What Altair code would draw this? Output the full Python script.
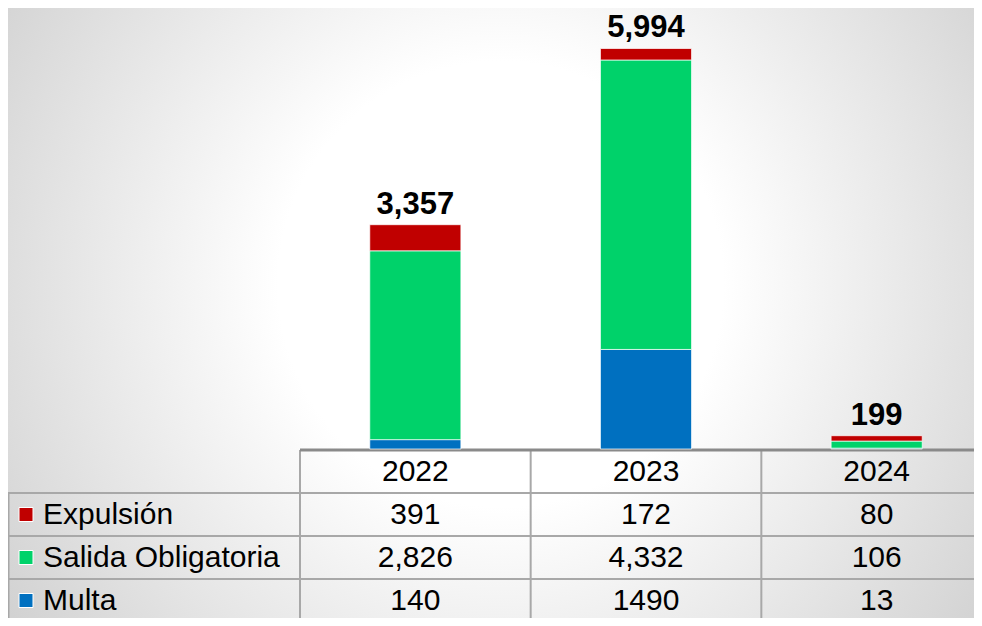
import altair as alt
import pandas as pd

# ---------------- data ----------------
years = ["2022", "2023", "2024"]
series = ["Expulsión", "Salida Obligatoria", "Multa"]
colors = ["#C00000", "#00D26A", "#0070C0"]
expulsion = [391, 172, 80]
salida = [2826, 4332, 106]
multa = [140, 1490, 13]
totals = [3357, 5994, 199]
expulsion_labels = ["391", "172", "80"]
salida_labels = ["2,826", "4,332", "106"]
multa_labels = ["140", "1490", "13"]
header_key = "Año"

# ---------------- layout ----------------
W, H = 966, 610
FONT = "Liberation Sans"
COL_RANGE = [292, 984]
TABLE_RANGE = [442, 614]

# long tables built from the lists
bar_rows = []
for i, yr in enumerate(years):
    for name, vals, order in [(series[2], multa, 0), (series[1], salida, 1), (series[0], expulsion, 2)]:
        bar_rows.append({"year": yr, "series": name, "value": vals[i], "order": order})
bars_df = pd.DataFrame(bar_rows)
tot_df = pd.DataFrame({"year": years, "total": totals, "label": [f"{t:,}" for t in totals]})

cell_rows = []
for i, yr in enumerate(years):
    cell_rows.append({"year": yr, "row": header_key, "label": yr})
    cell_rows.append({"year": yr, "row": series[0], "label": expulsion_labels[i]})
    cell_rows.append({"year": yr, "row": series[1], "label": salida_labels[i]})
    cell_rows.append({"year": yr, "row": series[2], "label": multa_labels[i]})
cells_df = pd.DataFrame(cell_rows)

bar_x = alt.Scale(domain=years, range=COL_RANGE, paddingInner=0.605, paddingOuter=0.3025)
bar_y = alt.Scale(domain=[0, 6600], range=[441, 0], nice=False, zero=True)
tab_x = alt.Scale(type="band", domain=years, range=COL_RANGE, paddingInner=0, paddingOuter=0)
tab_y = alt.Scale(type="band", domain=[header_key] + series, range=TABLE_RANGE, paddingInner=0, paddingOuter=0)

bg = alt.Chart(pd.DataFrame({"k": [0]})).mark_rect(
    fill=alt.RadialGradient(
        gradient="radial",
        x1=0.51, y1=0.47, r1=0,
        x2=0.51, y2=0.47, r2=0.72,
        stops=[
            alt.GradientStop(color="#ffffff", offset=0),
            alt.GradientStop(color="#ffffff", offset=0.32),
            alt.GradientStop(color="#d2d2d2", offset=0.85),
            alt.GradientStop(color="#cacaca", offset=1),
        ],
    ),
    strokeWidth=0,
).encode(x=alt.value(0), x2=alt.value("width"), y=alt.value(0), y2=alt.value("height"))

bars = alt.Chart(bars_df).mark_bar(stroke="white", strokeWidth=1, strokeOpacity=0.7).encode(
    x=alt.X("year:N", scale=bar_x, axis=None),
    y=alt.Y("value:Q", stack="zero", scale=bar_y, axis=None),
    color=alt.Color(
        "series:N",
        scale=alt.Scale(domain=series, range=colors),
        legend=alt.Legend(
            orient="none", legendX=3, legendY=491.5, direction="vertical", title=None,
            symbolType="square", symbolSize=196, symbolStrokeColor="white", symbolStrokeWidth=1,
            labelFont=FONT, labelFontSize=30, labelColor="#000000", labelOffset=2,
            labelLimit=400, rowPadding=13, padding=0,
        ),
    ),
    order=alt.Order("order:Q", sort="ascending"),
)

tot_text = alt.Chart(tot_df).mark_text(
    font=FONT, fontSize=31, fontWeight="bold", color="#000000", baseline="alphabetic", dy=-11
).encode(
    x=alt.X("year:N", scale=bar_x, axis=None, bandPosition=0.5),
    y=alt.Y("total:Q", scale=bar_y, axis=None),
    text="label:N",
)

cells = alt.Chart(cells_df).mark_text(
    font=FONT, fontSize=30, color="#000000", baseline="middle", align="center"
).encode(
    x=alt.X("year:N", scale=tab_x, axis=None, bandPosition=0.5),
    y=alt.Y("row:N", scale=tab_y, axis=None, bandPosition=0.5),
    text="label:N",
)

hlines = alt.Chart(pd.DataFrame({"row": series})).mark_rule(color="#a8a8a8", strokeWidth=2).encode(
    y=alt.Y("row:N", scale=tab_y, axis=None, bandPosition=0),
    x=alt.value(0),
    x2=alt.value("width"),
)

top_line = alt.Chart(pd.DataFrame({"row": [header_key], "year": [years[0]]})).mark_rule(
    color="#8a8a8a", strokeWidth=3
).encode(
    y=alt.Y("row:N", scale=tab_y, axis=None, bandPosition=0),
    x=alt.X("year:N", scale=tab_x, axis=None, bandPosition=0),
    x2=alt.value("width"),
)

vlines = alt.Chart(pd.DataFrame({"year": years, "row": [header_key] * 3})).mark_rule(
    color="#a8a8a8", strokeWidth=2
).encode(
    x=alt.X("year:N", scale=tab_x, axis=None, bandPosition=0),
    y=alt.Y("row:N", scale=tab_y, axis=None, bandPosition=0),
    y2=alt.value("height"),
)

left_line = alt.Chart(pd.DataFrame({"row": [series[0]]})).mark_rule(color="#a8a8a8", strokeWidth=2).encode(
    x=alt.value(0.5),
    y=alt.Y("row:N", scale=tab_y, axis=None, bandPosition=0),
    y2=alt.value("height"),
)

chart = alt.layer(bg, hlines, vlines, left_line, top_line, bars, tot_text, cells).resolve_scale(
    x="independent", y="independent"
).properties(
    width=W, height=H, padding=0, autosize=alt.AutoSizeParams(type="none")
).configure_view(stroke=None).configure(font=FONT)

chart.save("out.html", embed_options={"renderer": "svg", "actions": False})
